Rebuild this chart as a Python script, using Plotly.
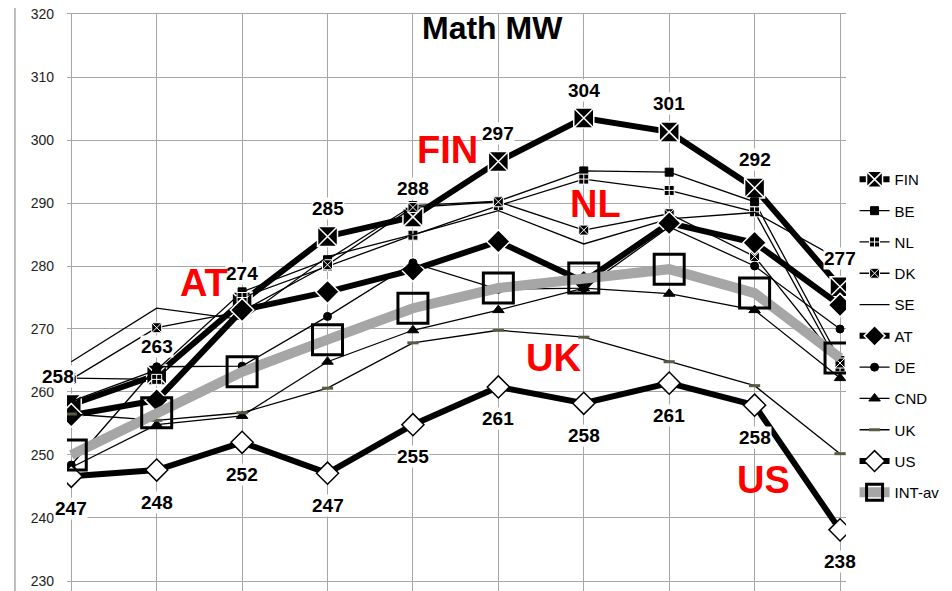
import plotly.graph_objects as go

# ten measurement points (no axis labels in the original)
points = list(range(10))

fin = [258.0, 262.7, 274.3, 284.7, 287.8, 296.6, 303.5, 301.3, 292.4, 276.7]
be = [258.5, 263.5, 275.9, 281.0, 289.6, 290.3, 295.1, 294.9, 290.2, 265.0]
nl = [262.2, 262.0, 275.0, 280.0, 284.9, 289.6, 293.8, 292.0, 288.6, 264.0]
dk = [262.0, 270.2, 272.8, 280.2, 289.3, 290.2, 285.7, 288.3, 281.5, 264.6]
se = [264.8, 273.3, 271.5, 281.5, 285.0, 288.8, 283.5, 287.5, 288.5, 281.0]
at = [256.3, 258.7, 273.0, 275.9, 279.4, 283.9, 277.5, 286.8, 283.7, 273.8]
de = [248.4, 264.0, 264.1, 272.0, 280.5, 276.3, 276.5, 286.2, 280.0, 270.0]
cnd = [248.0, 254.8, 256.2, 264.8, 269.8, 273.0, 276.5, 275.6, 273.0, 262.2]
uk = [256.5, 255.5, 256.7, 260.6, 267.8, 269.8, 268.7, 264.8, 261.0, 250.2]
us = [246.6, 247.6, 252.0, 247.1, 254.8, 260.8, 258.2, 261.4, 257.9, 238.1]
int_av = [250.0, 256.7, 263.2, 268.3, 273.3, 276.5, 278.1, 279.5, 275.7, 265.4]

fin_labels = [258, 263, 274, 285, 288, 297, 304, 301, 292, 277]
us_labels = [247, 248, 252, 247, 255, 261, 258, 261, 258, 238]

y_ticks = [230, 240, 250, 260, 270, 280, 290, 300, 310, 320]

GRID = "#a6a6a6"
FONT = "Liberation Sans, Arial, sans-serif"

fig = go.Figure()


def add_series(name, y, width, color="black", symbol=None, size=0, fill="black", edge="black", edge_w=1):
    marker = dict(symbol=symbol, size=size, color=fill, line=dict(color=edge, width=edge_w)) if symbol else None
    fig.add_trace(go.Scatter(
        x=points, y=y, name=name, legendgroup=name,
        mode="lines+markers" if symbol else "lines",
        line=dict(color=color, width=width),
        marker=marker,
    ))


add_series("FIN", fin, 6, symbol="square-x", size=20, edge="white", edge_w=1.5)
add_series("BE", be, 1.3, symbol="square", size=8)
add_series("NL", nl, 1.3, symbol="square-cross", size=10, edge="white", edge_w=1)
add_series("DK", dk, 1.3, symbol="square-x", size=10, edge="white", edge_w=1)
add_series("SE", se, 1.3)
add_series("AT", at, 6, symbol="diamond", size=18, edge="white", edge_w=1.5)
add_series("DE", de, 1.3, symbol="circle", size=8)
add_series("CND", cnd, 1.3, symbol="triangle-up", size=10)
add_series("UK", uk, 1.3, symbol="line-ew", size=8, edge="#5b5b45", edge_w=3)
add_series("US", us, 6, symbol="diamond", size=17, fill="white", edge="black", edge_w=1.5)
add_series("INT-av", int_av, 10, color="#a6a6a6", symbol="square-open", size=30, fill="black", edge="black", edge_w=3)

annotations = []
for i, (v, lab) in enumerate(zip(fin, fin_labels)):
    annotations.append(dict(
        x=points[i], y=v, text=f"<b>{lab}</b>", showarrow=False,
        yshift=28, xshift=-13 if i == 0 else 0,
        font=dict(size=19, color="black", family=FONT),
        bgcolor="white", borderpad=0,
    ))
for i, (v, lab) in enumerate(zip(us, us_labels)):
    annotations.append(dict(
        x=points[i], y=v, text=f"<b>{lab}</b>", showarrow=False,
        yshift=-32,
        font=dict(size=19, color="black", family=FONT),
        bgcolor="white", borderpad=0,
    ))

# country name call-outs in red
for text, x, y in [("FIN", 4.40, 298.4), ("AT", 1.55, 277.3), ("NL", 6.14, 289.8),
                   ("UK", 5.64, 265.4), ("US", 8.10, 246.0)]:
    annotations.append(dict(
        x=x, y=y, text=f"<b>{text}</b>", showarrow=False,
        font=dict(size=38, color="#ff0000", family=FONT),
    ))

annotations.append(dict(
    x=4.93, y=317.8, text="<b>Math MW</b>", showarrow=False,
    font=dict(size=32, color="black", family=FONT),
))

# the page body adds an 8px offset, so the figure is 8px smaller than the window
fig.update_layout(
    width=944, height=583,
    margin=dict(l=59, r=106, t=6, b=10, autoexpand=False),
    paper_bgcolor="white", plot_bgcolor="white",
    font=dict(family=FONT, color="black"),
    annotations=annotations,
    showlegend=True,
    legend=dict(
        x=1.011, y=0.737, xanchor="left", yanchor="top",
        font=dict(size=15, color="black", family=FONT),
        tracegroupgap=8.8, bgcolor="rgba(0,0,0,0)",
    ),
    xaxis=dict(
        range=[-0.05, 9.07], tickvals=points, showticklabels=False,
        showgrid=True, gridcolor=GRID, gridwidth=1.3,
        showline=True, linecolor=GRID, linewidth=1.3, mirror=True,
        ticks="outside", ticklen=10, tickcolor=GRID, tickwidth=1.3,
        zeroline=False, fixedrange=True,
    ),
    yaxis=dict(
        range=[229.98, 320.02], tickvals=y_ticks,
        showgrid=True, gridcolor=GRID, gridwidth=1.3,
        showline=False, zeroline=False,
        tickfont=dict(size=14, color="#222222", family=FONT),
        ticklabelstandoff=12, ticklabeloverflow="allow",
    ),
    shapes=[dict(
        type="line", xref="paper", yref="paper",
        x0=-0.0668, x1=-0.0668, y0=-0.02, y1=1.02,
        line=dict(color=GRID, width=1.5),
    )],
)

fig.write_html("out.html")
